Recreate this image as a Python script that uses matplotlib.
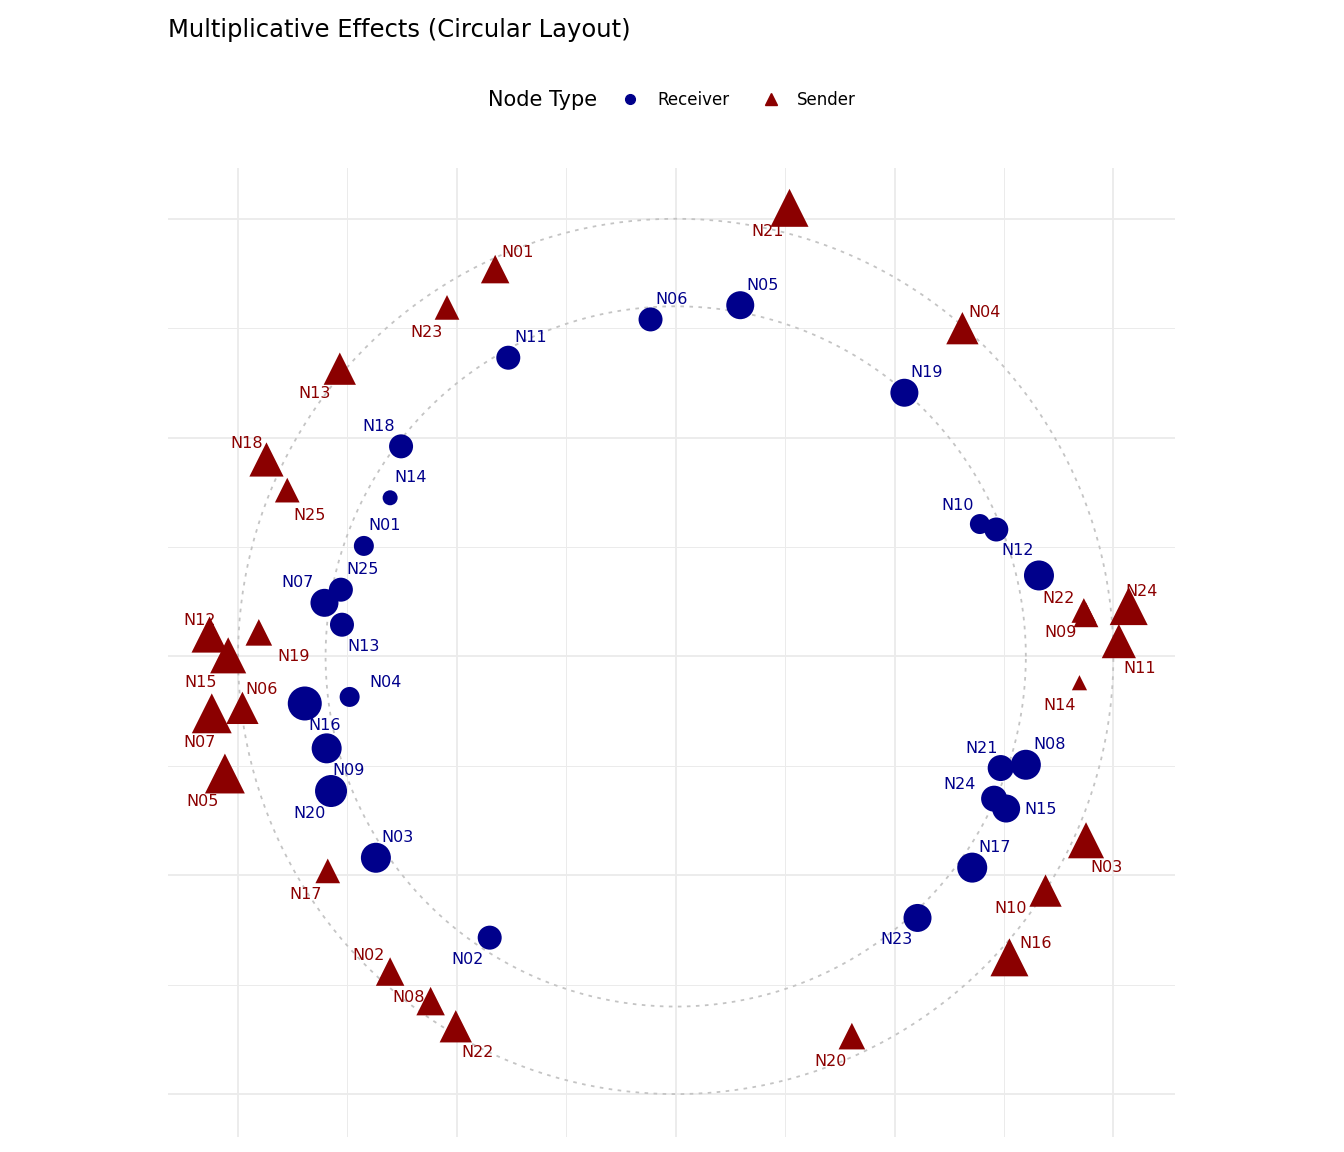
import numpy as np
import matplotlib.pyplot as plt
from matplotlib.lines import Line2D

# receivers: name, x, y, size (marker diameter px)
rec_names = ['N06','N05','N11','N19','N18','N14','N01','N25','N07','N13','N04','N16','N09',
             'N20','N03','N02','N10','N12','N22','N21','N08','N24','N15','N17','N23']
rec_x = [-0.23,0.59,-1.53,2.09,-2.51,-2.61,-2.85,-3.06,-3.21,-3.05,-2.98,-3.39,-3.19,
         -3.15,-2.74,-1.70,2.78,2.93,3.32,2.97,3.20,2.91,3.02,2.71,2.21]
rec_y = [3.08,3.21,2.73,2.41,1.92,1.45,1.01,0.61,0.49,0.29,-0.37,-0.43,-0.84,
         -1.23,-1.84,-2.57,1.21,1.16,0.74,-1.02,-0.99,-1.30,-1.39,-1.93,-2.39]
rec_size = [24,28,24,28,24,15,20,24,28,24,20,34,30,32,30,24,20,24,30,26,30,26,28,30,28]
rec_off = [(21,20),(22,20),(22,20),(22,20),(-22,20),(21,20),(21,20),(22,20),(-27,20),(22,-22),
           (36,14),(20,-22),(22,-22),(-21,-22),(22,20),(-22,-22),(-22,19),(21,-21),None,
           (-19,20),(24,20),(-35,14),(34,-1),(22,20),(-21,-22)]

snd_names = ['N21','N01','N23','N04','N13','N18','N25','N22','N09','N24','N11','N14','N12',
             'N19','N15','N06','N07','N05','N17','N03','N10','N16','N02','N08','N22','N20']
snd_x = [1.04,-1.65,-2.09,2.62,-3.07,-3.74,-3.55,3.73,3.75,4.14,4.05,3.69,-4.26,
         -3.81,-4.09,-3.96,-4.24,-4.12,-3.18,3.75,3.38,3.05,-2.61,-2.24,-2.01,1.61]
snd_y = [4.10,3.54,3.19,3.00,2.63,1.80,1.52,0.42,0.38,0.46,0.14,-0.24,0.20,
         0.22,0.01,-0.47,-0.52,-1.07,-1.96,-1.68,-2.14,-2.75,-2.88,-3.15,-3.38,-3.47]
snd_size = [40,30,26,34,34,36,26,26,26,40,36,16,38,28,38,34,42,42,26,38,34,40,30,30,34,28]
snd_off = [(-22,-24),(22,17),(-21,-25),(22,16),(-25,-25),(-20,16),(22,-25),(-25,12),(-25,-18),
           (13,15),(21,-27),(-20,-23),(-10,14),(35,-24),(-28,-27),(19,18),(-12,-29),(-22,-28),
           (-22,-24),(20,-27),(-35,-18),(26,14),(-22,16),(-22,4),(22,-26),(-21,-25)]

blue = '#00008B'
red = '#8B0000'

fig = plt.figure(figsize=(13.44, 11.52), dpi=100)
ax = fig.add_axes([0.125, 0.013, 0.749, 0.841])
ax.set_xlim(-4.64, 4.56)
ax.set_ylim(-4.39, 4.46)
ax.set_aspect('equal')
for s in ax.spines.values():
    s.set_visible(False)
ax.set_xticks([])
ax.set_yticks([])
for v in range(-4, 5):
    lw = 1.3 if v % 2 == 0 else 0.7
    ax.axvline(v, color='#ebebeb', lw=lw, zorder=0)
    ax.axhline(v, color='#ebebeb', lw=lw, zorder=0)

t = np.linspace(0, 2 * np.pi, 400)
for r in [4.0, 3.2]:
    ax.plot(r * np.cos(t), r * np.sin(t), ls=(0, (2, 3)), color='#c4c4c4', lw=1.3, zorder=1)

px2pt = 0.72
ax.scatter(rec_x, rec_y, s=[(d * px2pt) ** 2 for d in rec_size], color=blue, marker='o',
           linewidths=0, zorder=3)
ax.scatter(snd_x, snd_y, s=[(d * px2pt * 0.95) ** 2 for d in snd_size], color=red, marker='^',
           linewidths=0, zorder=3)

for n, x, y, o in zip(rec_names, rec_x, rec_y, rec_off):
    if o is None:
        continue
    ax.annotate(n, (x, y), xytext=(o[0] * px2pt, o[1] * px2pt), textcoords='offset points',
                ha='center', va='center', color=blue, fontsize=11.5, zorder=4)
for n, x, y, o in zip(snd_names, snd_x, snd_y, snd_off):
    ax.annotate(n, (x, y), xytext=(o[0] * px2pt, o[1] * px2pt), textcoords='offset points',
                ha='center', va='center', color=red, fontsize=11.5, zorder=4)

fig.text(0.125, 0.974, 'Multiplicative Effects (Circular Layout)', fontsize=17.5, va='center')
handles = [Line2D([], [], ls='', marker='o', color=blue, markersize=7),
           Line2D([], [], ls='', marker='^', color=red, markersize=8)]
leg = fig.legend(handles, ['Receiver', 'Sender'], title='Node Type', ncol=2, frameon=False,
                 loc='center', bbox_to_anchor=(0.5, 0.913), fontsize=12, title_fontsize=15,
                 handletextpad=0.6, columnspacing=1.5)
leg._legend_box.align = 'left'
# put title to the left of entries
from matplotlib.offsetbox import HPacker
box = leg._legend_box
box._children = [HPacker(children=list(box._children), align='center', pad=0, sep=12)]
fig.savefig('out.png', dpi=100)
